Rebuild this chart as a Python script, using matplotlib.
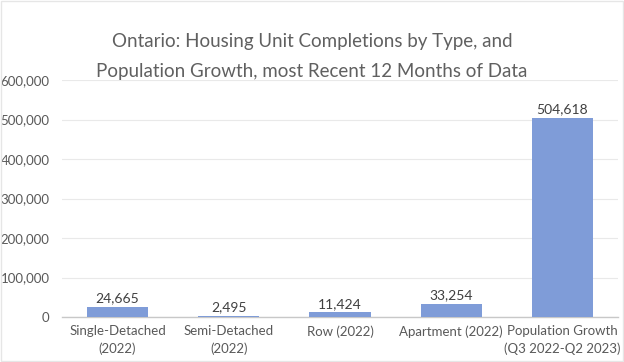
import matplotlib
matplotlib.use("Agg")
import matplotlib.pyplot as plt
from matplotlib.ticker import FuncFormatter
from matplotlib.patches import Rectangle
from matplotlib.transforms import offset_copy

categories = ["Single-Detached\n(2022)", "Semi-Detached\n(2022)", "Row (2022)",
              "Apartment (2022)", "Population Growth\n(Q3 2022-Q2 2023)"]
values = [24665, 2495, 11424, 33254, 504618]
yticks = [0, 100000, 200000, 300000, 400000, 500000, 600000]
title_lines = ["Ontario: Housing Unit Completions by Type, and",
               "Population Growth, most Recent 12 Months of Data"]

plt.rcParams['font.family'] = ['Lato', 'DejaVu Sans']

fig = plt.figure(figsize=(6.24, 3.62), dpi=100)
ax = fig.add_axes([62/624, 45/362, 556/624, 237/362])

x = list(range(len(categories)))
ax.bar(x, values, width=0.55, color="#7F9CD8", zorder=3)
for xi, v in zip(x, values):
    ax.text(xi, v + 7000, f"{v:,}", ha="center", va="bottom", fontsize=10, color="#404040")

ax.set_xlim(-0.5, len(categories) - 0.5)
ax.set_ylim(0, 600000)
ax.set_yticks(yticks)
ax.yaxis.set_major_formatter(FuncFormatter(lambda v, p: f"{int(v):,}"))
ax.set_xticks(x)
ax.set_xticklabels([])
for xi, c in zip(x, categories):
    for i, line in enumerate(c.split("\n")):
        tr = offset_copy(ax.get_xaxis_transform(), fig=fig, x=0, y=-6 - i * 12.5, units="points")
        ax.text(xi, 0, line, transform=tr, ha="center", va="top",
                fontsize=9.5, color="#595959")
ax.tick_params(axis="y", labelsize=9.5, labelcolor="#595959", length=0, pad=9)
ax.tick_params(axis="x", length=0, pad=5)
ax.grid(axis="y", color="#e9e9e9", linewidth=0.8, zorder=0)
for s in ["top", "right", "left"]:
    ax.spines[s].set_visible(False)
ax.spines["bottom"].set_color("#c8c8c8")
ax.spines["bottom"].set_linewidth(1.0)

for i, line in enumerate(title_lines):
    fig.text(0.5, 1 - (42 + i * 29) / 362, line, ha="center", va="center", fontsize=13.5,
             color="#606060")
fig.patches.append(Rectangle((0.002, 0.003), 0.996, 0.994, transform=fig.transFigure,
                             fill=False, edgecolor="#e6e6e6", linewidth=1))

fig.savefig("out.png", dpi=100)
